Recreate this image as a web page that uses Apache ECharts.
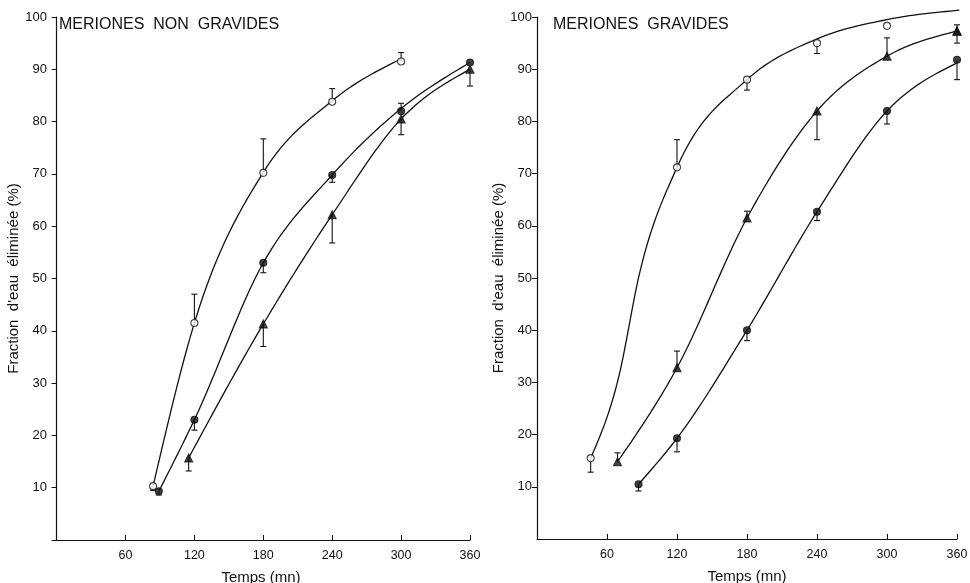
<!DOCTYPE html>
<html>
<head>
<meta charset="utf-8">
<script src="https://cdn.jsdelivr.net/npm/echarts@6/dist/echarts.min.js"></script>
<style>
  html, body { margin: 0; padding: 0; background: #fff; }
  #chart { width: 970px; height: 583px; }
</style>
</head>
<body>
<div id="chart"></div>
<script>
// tick labels
var xTicks = [60, 120, 180, 240, 300, 360];
var yTicks = [10, 20, 30, 40, 50, 60, 70, 80, 90, 100];

// MERIONES NON GRAVIDES  (left)
var ngOpenT = [84, 120, 180, 240, 300];
var ngOpenY = [10.3, 41.5, 70.2, 83.8, 91.5];
var ngOpenErr = [9.5, 47, 76.7, 86.3, 93.2];

var ngFillT = [89, 120, 180, 240, 300, 360];
var ngFillY = [9.3, 23, 53, 69.8, 82, 91.3];
var ngFillErr = [8.6, 21, 51.1, 68.4, 83.5, null];

var ngTriT = [115, 180, 240, 300, 360];
var ngTriY = [15.7, 41.3, 62.2, 80.5, 90];
var ngTriErr = [13.2, 37, 56.8, 77.5, 86.8];

// fitted curves
var ngOpenCurve = [[84, 10.3], [120, 41.5], [180, 70.3], [240, 84], [300, 92]];
var ngFillCurve = [[89, 9.3], [120, 23], [180, 53], [240, 69.8], [300, 82.5], [360, 91.3]];
var ngTriCurve = [[115, 15.7], [180, 41.3], [240, 62.2], [300, 80.5], [360, 90]];

// MERIONES GRAVIDES  (right)
var gOpenT = [46, 120, 180, 240, 300, 360];
var gOpenY = [15.5, 71.2, 88, 95, 98.3, 100.5];
var gOpenErr = [12.8, 76.5, 86, 93, null, null];

var gTriT = [69, 120, 180, 240, 300, 360, 360];
var gTriY = [14.8, 32.8, 61.5, 82, 92.5, 97.3, 97.3];
var gTriErr = [16.5, 36, 62.8, 76.5, 96, 95, 98.5];

var gFillT = [87, 120, 180, 240, 300, 360];
var gFillY = [10.5, 19.3, 40, 62.7, 82, 91.8];
var gFillErr = [9.2, 16.7, 38, 61, 79.5, 88];

var gOpenCurve = [[46, 15.5], [70, 31], [88, 51], [120, 71.2], [180, 88], [240, 95.8], [300, 99.5], [362, 101.3]];
var gTriCurve = [[69, 14.8], [120, 32.8], [180, 61.5], [240, 82], [300, 92.5], [360, 97.3]];
var gFillCurve = [[87, 10.5], [120, 19.3], [180, 40], [240, 62.7], [300, 82], [360, 91.2]];

var ink = '#111';
var font = 'Liberation Sans';

function pts(t, y) {
  return t.map(function (v, i) { return [v, y[i]]; });
}
function errs(t, y, e) {
  var out = [];
  t.forEach(function (v, i) { if (e[i] != null) out.push([v, y[i], e[i]]); });
  return out;
}

// slopes for a smooth cubic (Hermite) through the curve points
function slopes(c) {
  var n = c.length, d = [], h = [], m = [];
  for (var i = 0; i < n - 1; i++) {
    h[i] = c[i + 1][0] - c[i][0];
    d[i] = (c[i + 1][1] - c[i][1]) / h[i];
  }
  for (var j = 1; j < n - 1; j++) {
    m[j] = (h[j] * d[j - 1] + h[j - 1] * d[j]) / (h[j - 1] + h[j]);
  }
  m[0] = (3 * d[0] - m[1]) / 2;
  m[n - 1] = (3 * d[n - 2] - m[n - 2]) / 2;
  return m;
}

function curve(c, idx) {
  var m = slopes(c);
  return {
    type: 'custom', xAxisIndex: idx, yAxisIndex: idx, data: c, z: 3,
    encode: { x: 0, y: 1 },
    clip: false,
    renderItem: function (params, api) {
      if (params.dataIndex !== 0) return null;
      var out = [];
      for (var i = 0; i < c.length - 1; i++) {
        var x0 = c[i][0], y0 = c[i][1], x1 = c[i + 1][0], y1 = c[i + 1][1], h = x1 - x0;
        for (var k = 0; k <= 16; k++) {
          if (i > 0 && k === 0) continue;
          var s = k / 16, s2 = s * s, s3 = s2 * s;
          var y = (2 * s3 - 3 * s2 + 1) * y0 + (s3 - 2 * s2 + s) * h * m[i] +
                  (-2 * s3 + 3 * s2) * y1 + (s3 - s2) * h * m[i + 1];
          out.push(api.coord([x0 + s * h, y]));
        }
      }
      return { type: 'polyline', shape: { points: out },
        style: { stroke: ink, lineWidth: 1.3, fill: null } };
    }
  };
}

function errorBar(t, y, e, idx) {
  return {
    type: 'custom', xAxisIndex: idx, yAxisIndex: idx, z: 2,
    data: errs(t, y, e),
    encode: { x: 0, y: [1, 2] },
    renderItem: function (params, api) {
      var p0 = api.coord([api.value(0), api.value(1)]);
      var p1 = api.coord([api.value(0), api.value(2)]);
      var st = { stroke: ink, lineWidth: 1.1 };
      return {
        type: 'group',
        children: [
          { type: 'line', shape: { x1: p0[0], y1: p0[1], x2: p1[0], y2: p1[1] }, style: st },
          { type: 'line', shape: { x1: p1[0] - 3, y1: p1[1], x2: p1[0] + 3, y2: p1[1] }, style: st }
        ]
      };
    }
  };
}

function marks(t, y, sym, filled, idx) {
  return {
    type: 'scatter', xAxisIndex: idx, yAxisIndex: idx, data: pts(t, y), z: 5,
    symbol: sym, symbolSize: sym === 'triangle' ? 8 : 7,
    itemStyle: { color: filled ? ink : '#fff', borderColor: ink, borderWidth: 1.1 }
  };
}

function xAxis(idx, min) {
  return {
    type: 'value', gridIndex: idx, min: min, max: 360,
    name: 'Temps (mn)', nameLocation: 'middle', nameGap: 30,
    nameTextStyle: { fontFamily: font, fontSize: 15, color: ink },
    axisLine: { lineStyle: { color: ink, width: 1.2 } },
    axisTick: { inside: true, length: 5, customValues: xTicks, lineStyle: { color: ink } },
    axisLabel: { customValues: xTicks, margin: 9, fontFamily: font, fontSize: 12.5, color: ink },
    splitLine: { show: false }
  };
}

function yAxis(idx, gap) {
  return {
    type: 'value', gridIndex: idx, min: 0, max: 100,
    name: "Fraction  d'eau  éliminée (%)", nameLocation: 'middle', nameGap: gap,
    nameTextStyle: { fontFamily: font, fontSize: 15, color: ink },
    axisLine: { show: true, lineStyle: { color: ink, width: 1.2 } },
    axisTick: { show: true, length: 5, customValues: yTicks, lineStyle: { color: ink } },
    axisLabel: { customValues: yTicks, margin: 5, fontFamily: font, fontSize: 13, color: ink },
    splitLine: { show: false }
  };
}

var chart = echarts.init(document.getElementById('chart'));
chart.setOption({
  backgroundColor: '#fff',
  animation: false,
  title: [
    { text: 'MERIONES  NON  GRAVIDES', left: 54, top: 12,
      textStyle: { fontFamily: font, fontSize: 16, fontWeight: 'normal', color: ink } },
    { text: 'MERIONES  GRAVIDES', left: 548, top: 12,
      textStyle: { fontFamily: font, fontSize: 16, fontWeight: 'normal', color: ink } }
  ],
  grid: [
    { left: 52, top: 17, width: 418, height: 523, outerBoundsMode: 'none' },
    { left: 537, top: 17, width: 420, height: 522, outerBoundsMode: 'none' }
  ],
  xAxis: [xAxis(0, -4), xAxis(1, 0)],
  yAxis: [yAxis(0, 29), yAxis(1, 28)],
  series: [
    curve(ngOpenCurve, 0), curve(ngFillCurve, 0), curve(ngTriCurve, 0),
    errorBar(ngOpenT, ngOpenY, ngOpenErr, 0),
    errorBar(ngFillT, ngFillY, ngFillErr, 0),
    errorBar(ngTriT, ngTriY, ngTriErr, 0),
    marks(ngOpenT, ngOpenY, 'circle', false, 0),
    marks(ngFillT, ngFillY, 'circle', true, 0),
    marks(ngTriT, ngTriY, 'triangle', true, 0),

    curve(gOpenCurve, 1), curve(gTriCurve, 1), curve(gFillCurve, 1),
    errorBar(gOpenT, gOpenY, gOpenErr, 1),
    errorBar(gTriT, gTriY, gTriErr, 1),
    errorBar(gFillT, gFillY, gFillErr, 1),
    marks(gOpenT, gOpenY, 'circle', false, 1),
    marks(gTriT, gTriY, 'triangle', true, 1),
    marks(gFillT, gFillY, 'circle', true, 1)
  ]
});
</script>
</body>
</html>
